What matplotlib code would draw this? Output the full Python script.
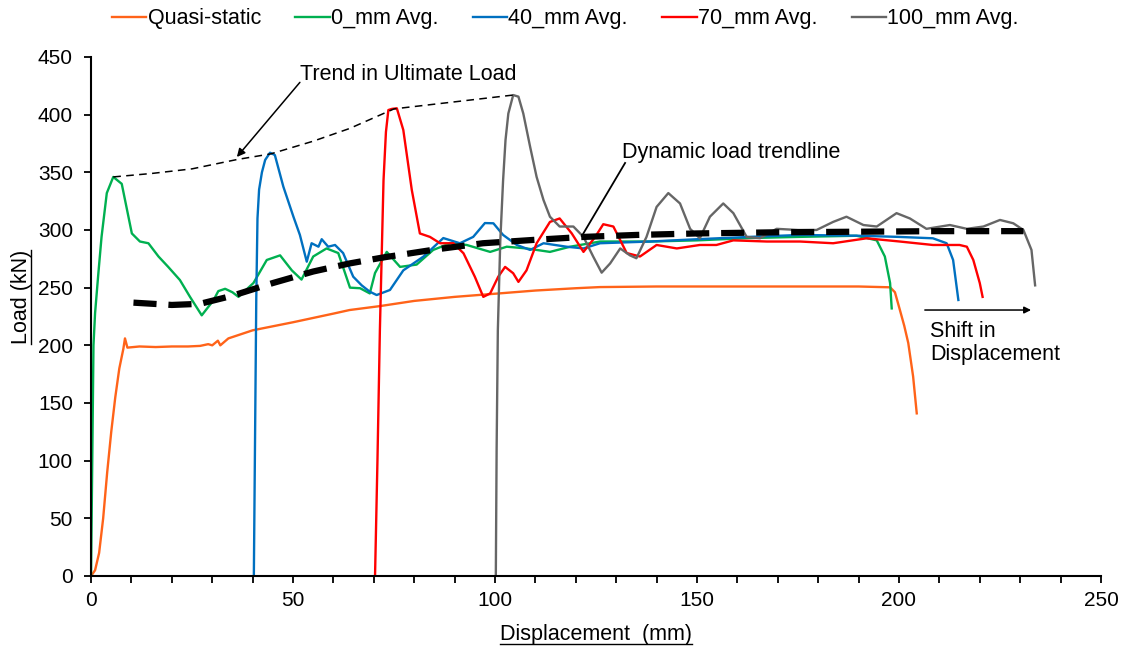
import matplotlib
matplotlib.use("Agg")
import matplotlib.pyplot as plt
from matplotlib.lines import Line2D
from matplotlib.ticker import MultipleLocator

plt.rcParams['font.family'] = ['Liberation Sans', 'DejaVu Sans']

# Quasi-static curve
qs_x = [0, 1, 2, 3, 4, 5, 6, 7, 8, 8.4, 9, 12, 16, 20, 24, 27, 29, 30, 31.4, 32, 34, 40, 50, 60, 64,
        71.5, 80, 90, 101, 110, 120, 126, 140, 150, 160, 170, 180, 190, 197.8, 199, 200.2, 201.3,
        202.3, 203.5, 204.4]
qs_y = [0, 5, 20, 50, 90, 125, 155, 180, 197, 206, 198, 199, 198.5, 199, 199, 199.5, 201, 200, 204,
        200, 206, 213, 220, 227.5, 230.6, 234, 238.5, 242, 245, 247.5, 249.5, 250.5, 251, 251, 251,
        251, 251, 251, 250.3, 246, 231, 217, 202, 173, 141]

# 0 mm
g_x = [0, 0.3, 0.6, 1.0, 1.8, 2.6, 3.9, 5.5, 7.6, 10.1, 12.1, 14.2, 16.7, 19.1, 22, 24.5, 27.4, 30.3,
       31.5, 33.2, 35, 36.5, 40.2, 43.5, 46.8, 49.7, 52.1, 55, 58.3, 61.2, 64.1, 66.6, 69, 70.3, 73.2,
       76.5, 80.6, 84.7, 88.9, 93, 98.8, 102.9, 107.8, 113.6, 118.6, 126, 138.4, 150, 163, 175, 189.5,
       194.5, 196.5, 197.8, 198.2]
g_y = [0, 100, 200, 228, 262, 294, 332, 346, 340, 297, 290, 288.5, 277, 268, 256.6, 242, 226, 239,
       247, 249, 246, 242, 254, 274, 278, 265, 257, 277, 284, 280, 250, 249.5, 245, 262.7, 281, 268,
       270, 282.7, 288.5, 287, 281, 285.5, 284, 281, 285.5, 290, 290, 291, 293, 294, 295, 291, 277,
       254, 232]

# 40 mm
b_x = [40.3, 40.6, 40.9, 41.2, 41.6, 42.3, 43.1, 44.3, 45.5, 47.6, 50.1, 51.7, 53.4, 54.6, 56.3, 57.1,
       58.7, 60.4, 62.4, 64.9, 67.0, 69.0, 70.7, 74, 77.3, 82.3, 87.2, 91.3, 94.6, 97.5, 99.6, 102,
       105.4, 108.7, 112, 117.7, 121.9, 126, 138.4, 150, 163, 175.5, 190, 200, 208.4, 211.8, 213.4,
       214.7]
b_y = [0, 120, 240, 310, 335, 350, 360.7, 367, 365, 337.6, 311.5, 295.7, 272.5, 288.5, 285.5, 292,
       285.5, 287, 280, 259.5, 252, 246.5, 243.6, 248, 265, 277, 293, 288.5, 294, 306, 305.8, 295.7,
       287, 282.7, 288.5, 285.5, 284, 288.5, 290, 292, 294, 295.7, 295, 294, 292.8, 288.5, 274, 239.3]

# 70 mm
r_x = [70.3, 70.9, 71.5, 72.4, 73.0, 73.6, 74.5, 75.7, 77.3, 79.4, 81.4, 83.9, 86.4, 89.7, 92.2, 95,
       97.1, 98.8, 100.8, 102.5, 104.5, 105.8, 107.8, 110.3, 113.6, 116, 119, 121.9, 124.8, 126.8,
       129.3, 132.6, 135.9, 140, 145, 150.7, 154.8, 159, 167.3, 175.5, 183.7, 192, 200.2, 208.4, 215,
       216.8, 218.4, 220, 220.7]
r_y = [0, 100, 213, 343, 385, 404, 405, 405.5, 386.7, 334.7, 297, 294, 288.5, 288.5, 279.8, 259.5,
       242, 245, 259.5, 268, 262.5, 255, 265, 288.5, 307, 310, 297, 281, 294, 305, 303, 280, 277, 287,
       284, 287, 287, 291, 290, 290, 288.5, 292.8, 290, 287, 287, 285.5, 274, 254, 242]

# 100 mm
k_x = [100.2, 100.4, 100.7, 101.3, 102, 102.6, 103.3, 104.5, 105.8, 107, 108.7, 110.3, 112, 113.6,
       116, 119.4, 121.9, 124.3, 126.4, 128.5, 131, 133.4, 135, 137.5, 140, 142.9, 145.8, 148.3,
       150.7, 153.2, 156.5, 159, 162.3, 165.6, 169.7, 175, 179.6, 183.7, 187, 191.2, 194.5, 199.4,
       202.7, 206.8, 212.6, 216.8, 220.9, 225, 228.3, 230.8, 232.8, 233.7]
k_y = [0, 110, 213, 290, 343, 378, 401, 417, 415.6, 401, 372, 346, 326, 311.5, 303, 303, 294, 277,
       263, 271, 284, 278, 275.5, 294, 320, 332, 323, 301, 292.8, 311.5, 323, 314.6, 294, 292.8, 301,
       300, 300, 307, 311.5, 304.3, 303, 314.6, 310, 301, 304.3, 301, 303, 308.7, 305.8, 300, 282.7,
       252]

# trend lines
dyn_x = [10.5, 20, 27, 35, 45, 55, 64, 72, 85, 97, 110, 122, 135, 150, 170, 190, 210, 230.8]
dyn_y = [237, 235, 236, 243, 254, 264, 271, 276, 283, 288.5, 291.5, 294, 295.7, 297, 298, 298.5, 299, 299]
ult_x = [5.5, 15, 25, 36, 44.5, 55, 64, 75, 104.5]
ult_y = [346, 349, 353, 361, 366, 377, 388, 405, 417]

labels = ['Quasi-static', '0_mm Avg.', '40_mm Avg.', '70_mm Avg.', '100_mm Avg.']
colors = ['#FF6319', '#00B050', '#0070C0', '#FF0000', '#666666']

fig = plt.figure(figsize=(11.24, 6.49), dpi=100)
ax = fig.add_axes([0.081, 0.1125, 0.8985, 0.7997])

series = [(qs_x, qs_y), (g_x, g_y), (b_x, b_y), (r_x, r_y), (k_x, k_y)]
for (xs, ys), lab, c in zip(series, labels, colors):
    ax.plot(xs, ys, color=c, lw=1.7, label=lab)

ax.plot(dyn_x, dyn_y, color='black', lw=4.5, dashes=(3.7, 1.9), dash_capstyle='butt')
ax.plot(ult_x, ult_y, color='black', lw=1.1, dashes=(5, 3.5))

ax.set_xlim(0, 250)
ax.set_ylim(0, 450)
ax.xaxis.set_major_locator(MultipleLocator(50))
ax.xaxis.set_minor_locator(MultipleLocator(10))
ax.yaxis.set_major_locator(MultipleLocator(50))
for s in ['top', 'right']:
    ax.spines[s].set_visible(False)
for s in ['left', 'bottom']:
    ax.spines[s].set_linewidth(1.5)
ax.tick_params(which='both', direction='out', length=5, width=1.3, labelsize=15, pad=6)
ax.tick_params(axis='y', pad=8)

ax.set_xlabel('Displacement  (mm)', fontsize=15.5)
ax.set_ylabel('Load (kN)', fontsize=15.5)
ax.xaxis.set_label_coords(0.5, -0.093)
ax.yaxis.set_label_coords(-0.058, 0.537)

# annotations
ax.text(51.7, 434.4, 'Trend in Ultimate Load', fontsize=15.5, va='center', ha='left')
ax.annotate('', xy=(36.1, 363.3), xytext=(51.7, 428),
            arrowprops=dict(arrowstyle='-|>', color='black', lw=1.1, mutation_scale=12, shrinkA=0, shrinkB=0))
ax.text(131.4, 366.8, 'Dynamic load trendline', fontsize=15.5, va='center', ha='left')
ax.plot([132.2, 121.5], [358.1, 294.8], color='black', lw=1.3)
ax.annotate('', xy=(232.7, 230.6), xytext=(206.4, 230.6),
            arrowprops=dict(arrowstyle='-|>', color='black', lw=1.1, mutation_scale=10, shrinkA=0, shrinkB=0))
ax.text(207.7, 221, 'Shift in\nDisplacement', fontsize=15.5, va='top', ha='left', linespacing=1.15)

fig.legend(loc='upper center', bbox_to_anchor=(0.503, 1.017), ncol=5, frameon=False, fontsize=15.5,
           handlelength=1.6, handletextpad=0.05, columnspacing=1.6)

# underline the axis titles
fig.canvas.draw()
r = fig.canvas.get_renderer()
bb = ax.xaxis.label.get_window_extent(r)
fig.add_artist(Line2D([bb.x0, bb.x1], [bb.y0 + 1.5, bb.y0 + 1.5], transform=None, color='black', lw=1))
bb = ax.yaxis.label.get_window_extent(r)
fig.add_artist(Line2D([bb.x1 - 1.5, bb.x1 - 1.5], [bb.y0, bb.y1], transform=None, color='black', lw=1))

fig.savefig('out.png', dpi=100)
